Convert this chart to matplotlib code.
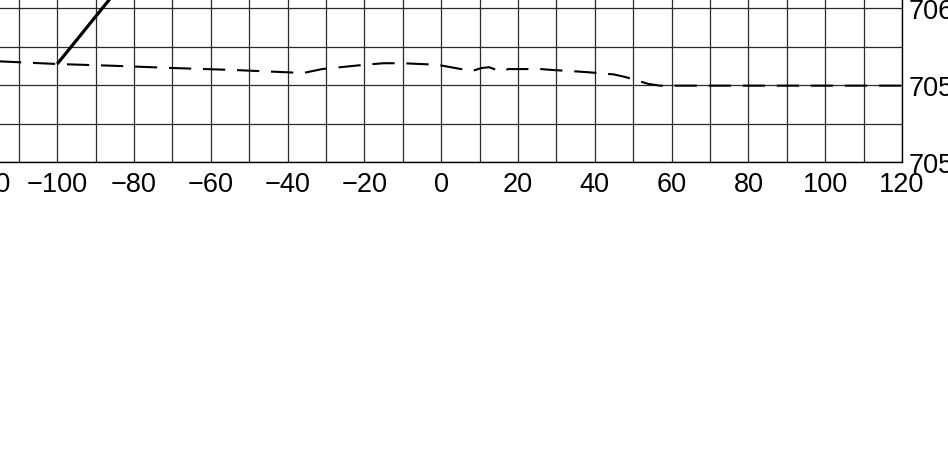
import matplotlib
matplotlib.use("Agg")
import matplotlib.pyplot as plt
from matplotlib.ticker import MultipleLocator, FixedLocator

plt.rcParams['font.family'] = ['Liberation Sans', 'DejaVu Sans']
plt.rcParams['lines.scale_dashes'] = False

# Data
dash_x = [-120, -100, -86, -70, -54, -40, -36, -31, -20, -15, -10, -1, 8,
          10.5, 12.5, 15.5, 17.5, 20, 26, 29, 35, 38.5, 45, 48, 54, 57, 120]
dash_y = [705.661, 705.638, 705.627, 705.612, 705.599, 705.584, 705.579,
          705.605, 705.633, 705.643, 705.643, 705.633, 705.592,
          705.612, 705.617, 705.589, 705.605, 705.605, 705.605, 705.599,
          705.590, 705.584, 705.570, 705.553, 705.508, 705.497, 705.497]
solid_x = [-100, -75]
solid_y = [705.638, 706.41]

x_ticks = [-120, -100, -80, -60, -40, -20, 0, 20, 40, 60, 80, 100, 120]
x_labels = ['\u2212120', '\u2212100', '\u221280', '\u221260', '\u221240', '\u221220',
            '0', '20', '40', '60', '80', '100', '120']
y_ticks = [705.0, 705.5, 706.0, 706.5, 707.0]
y_labels = ['705.0', '705.5', '706.0', '706.5', '707.0']

W, H = 948, 452
fig = plt.figure(figsize=(W / 100, H / 100), dpi=100)
left_px = 902 - 921.6
bottom_px = H - 163
ax = fig.add_axes([left_px / W, bottom_px / H, 921.6 / W, 307.2 / H])
ax.set_xlim(-120, 120)
ax.set_ylim(705.0, 707.0)

ax.xaxis.set_major_locator(FixedLocator(x_ticks))
ax.set_xticklabels(x_labels)
ax.xaxis.set_minor_locator(MultipleLocator(10))
ax.yaxis.set_major_locator(FixedLocator(y_ticks))
ax.yaxis.set_minor_locator(MultipleLocator(0.25))
ax.set_yticklabels(y_labels)
ax.yaxis.tick_right()

ax.grid(True, which='both', color='#2a2a2a', linewidth=0.9)
ax.set_axisbelow(True)
ax.tick_params(which='both', length=0)
ax.tick_params(axis='x', labelsize=19.5, pad=6.5, colors='black')
ax.tick_params(axis='y', labelsize=19.5, pad=5, colors='black')

for s in ax.spines.values():
    s.set_color('black')
    s.set_linewidth(1.0)

ax.plot(dash_x, dash_y, color='black', linewidth=1.5, dashes=(16, 8.5))
ax.plot(solid_x, solid_y, color='black', linewidth=2.3, solid_capstyle='butt')

fig.savefig('out.png', dpi=100)
